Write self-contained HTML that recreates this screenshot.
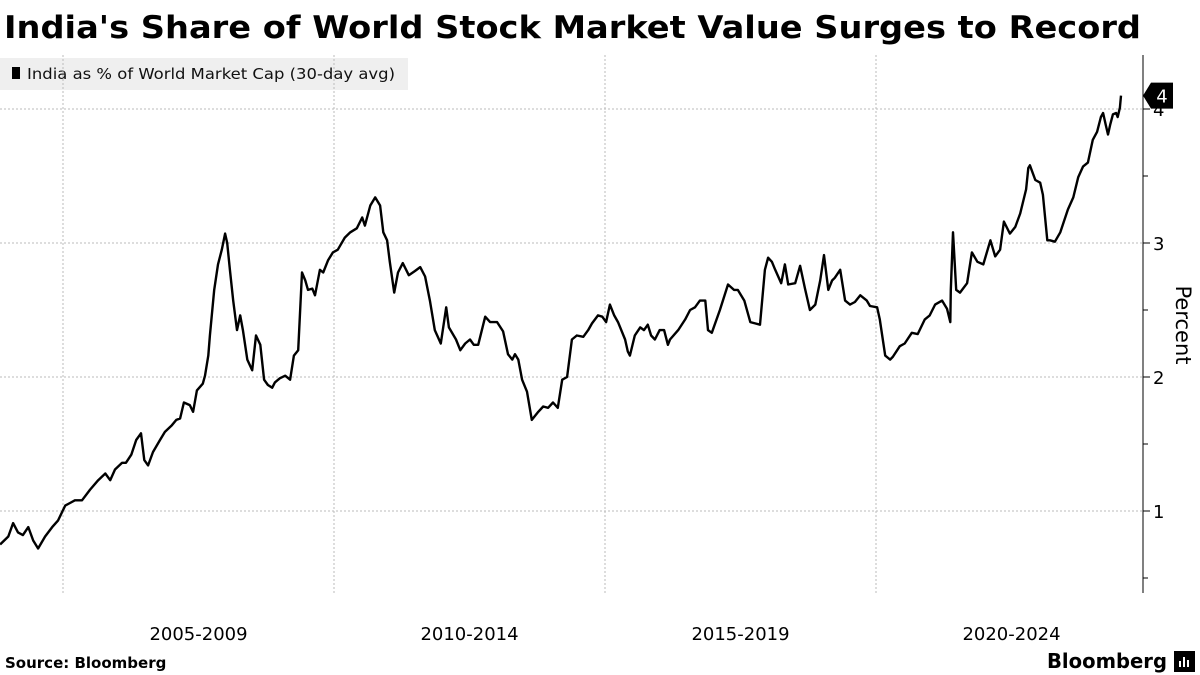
<!DOCTYPE html>
<html><head><meta charset="utf-8"><style>
html,body{margin:0;padding:0;background:#fff;}
svg{display:block;font-family:"DejaVu Sans","Liberation Sans",sans-serif;}
</style></head><body>
<svg id="chart" width="1200" height="675" viewBox="0 0 1200 675">
<text x="4" y="38" font-size="31" font-weight="bold" fill="#000" textLength="1137" lengthAdjust="spacingAndGlyphs">India's Share of World Stock Market Value Surges to Record</text>
<g>
<rect x="0" y="58" width="408" height="32" fill="#efefef"/>
<rect x="12" y="67" width="8" height="12" fill="#000"/>
<text x="27" y="79" font-size="15" fill="#111" textLength="368" lengthAdjust="spacingAndGlyphs">India as % of World Market Cap (30-day avg)</text>
</g>
<g id="grid"></g>
<g id="axes"></g>
<path id="line" fill="none" stroke="#000" stroke-width="2.4" stroke-linejoin="round"/>
<g id="badge"></g>
<text transform="translate(1176,325) rotate(90)" text-anchor="middle" font-size="21" fill="#000">Percent</text>
<text x="5" y="668" font-size="15" font-weight="bold" fill="#000">Source: Bloomberg</text>
<text x="1047" y="668" font-size="20" font-weight="bold" fill="#000" textLength="120" lengthAdjust="spacingAndGlyphs">Bloomberg</text>
<g><rect x="1174" y="651" width="21" height="21" fill="#000"/><rect x="1179" y="661" width="2" height="6" fill="#fff"/><rect x="1183" y="657" width="2" height="10" fill="#fff"/><rect x="1187" y="660" width="2" height="7" fill="#fff"/></g>
</svg>
<script>
const years = [2003.84,2003.99,2004.08,2004.17,2004.26,2004.36,2004.45,2004.54,2004.67,2004.80,2004.91,2005.04,2005.13,2005.22,2005.35,2005.50,2005.65,2005.78,2005.87,2005.96,2006.09,2006.16,2006.26,2006.35,2006.44,2006.50,2006.57,2006.66,2006.79,2006.88,2007.01,2007.09,2007.16,2007.23,2007.34,2007.40,2007.47,2007.58,2007.62,2007.68,2007.71,2007.79,2007.86,2007.93,2007.99,2008.03,2008.08,2008.14,2008.21,2008.27,2008.32,2008.40,2008.49,2008.56,2008.64,2008.71,2008.78,2008.86,2008.91,2009.00,2009.10,2009.19,2009.26,2009.34,2009.41,2009.47,2009.52,2009.60,2009.65,2009.74,2009.80,2009.89,2009.98,2010.07,2010.20,2010.30,2010.42,2010.52,2010.57,2010.67,2010.76,2010.85,2010.91,2010.98,2011.03,
2011.11,2011.18,2011.27,2011.38,2011.49,2011.59,2011.68,2011.77,2011.86,2011.97,2012.07,2012.12,2012.25,2012.33,2012.42,2012.51,2012.58,2012.66,2012.79,2012.88,2013.01,2013.12,2013.21,2013.29,2013.34,2013.40,2013.47,2013.56,2013.65,2013.77,2013.86,2013.95,2014.04,2014.13,2014.21,2014.30,2014.39,2014.48,2014.60,2014.69,2014.76,2014.87,2014.95,2015.02,2015.09,2015.17,2015.24,2015.37,2015.42,2015.46,2015.55,2015.65,2015.72,2015.79,2015.85,2015.92,2016.01,2016.09,2016.16,2016.20,2016.35,2016.48,2016.57,2016.66,2016.75,2016.85,2016.90,2016.97,2017.12,2017.27,2017.38,2017.45,2017.57,2017.68,2017.77,2017.86,
2017.95,2018.01,2018.08,2018.14,2018.25,2018.32,2018.38,2018.51,2018.60,2018.69,2018.78,2018.88,2018.97,2019.04,2019.12,2019.19,2019.24,2019.34,2019.43,2019.52,2019.61,2019.71,2019.83,2019.89,2020.02,2020.07,2020.17,2020.26,2020.31,2020.44,2020.53,2020.66,2020.77,2020.90,2020.99,2021.09,2021.22,2021.31,2021.37,2021.38,2021.42,2021.48,2021.55,2021.68,2021.77,2021.87,2021.98,2022.11,2022.20,2022.29,2022.36,2022.47,2022.57,2022.66,2022.77,2022.81,2022.84,2022.94,2023.03,2023.08,2023.16,2023.21,2023.30,2023.40,2023.54,2023.64,2023.73,2023.82,2023.91,2024.00,2024.08,2024.15,2024.19,2024.24,2024.28,2024.32,2024.37,2024.43,2024.46,2024.50,2024.52];
const values = [0.75,0.81,0.91,0.84,0.82,0.88,0.78,0.72,0.81,0.88,0.93,1.04,1.06,1.08,1.08,1.16,1.23,1.28,1.23,1.31,1.36,1.36,1.42,1.53,1.58,1.38,1.34,1.44,1.53,1.59,1.64,1.68,1.69,1.81,1.79,1.74,1.90,1.95,2.01,2.16,2.31,2.65,2.84,2.95,3.07,3.00,2.80,2.57,2.35,2.46,2.35,2.13,2.05,2.31,2.24,1.98,1.94,1.92,1.96,1.99,2.01,1.98,2.16,2.20,2.78,2.72,2.65,2.66,2.61,2.80,2.78,2.87,2.93,2.95,3.04,3.08,3.11,3.19,3.13,3.28,3.34,3.28,3.08,3.02,2.86,
2.63,2.78,2.85,2.76,2.79,2.82,2.75,2.57,2.35,2.25,2.52,2.37,2.28,2.20,2.25,2.28,2.24,2.24,2.45,2.41,2.41,2.34,2.17,2.13,2.17,2.13,1.98,1.89,1.68,1.74,1.78,1.77,1.81,1.77,1.98,2.00,2.28,2.31,2.30,2.35,2.40,2.46,2.45,2.41,2.54,2.46,2.41,2.28,2.19,2.16,2.31,2.37,2.35,2.39,2.31,2.28,2.35,2.35,2.24,2.28,2.35,2.43,2.50,2.52,2.57,2.57,2.35,2.33,2.50,2.69,2.65,2.65,2.57,2.41,2.40,2.39,
2.80,2.89,2.86,2.80,2.70,2.84,2.69,2.70,2.83,2.66,2.50,2.54,2.72,2.91,2.65,2.72,2.74,2.80,2.57,2.54,2.56,2.61,2.57,2.53,2.52,2.43,2.16,2.13,2.15,2.23,2.25,2.33,2.32,2.43,2.46,2.54,2.57,2.51,2.41,2.65,3.08,2.65,2.63,2.70,2.93,2.86,2.84,3.02,2.90,2.95,3.16,3.07,3.12,3.22,3.40,3.56,3.58,3.47,3.45,3.36,3.02,3.02,3.01,3.08,3.25,3.34,3.49,3.57,3.60,3.77,3.83,3.94,3.97,3.88,3.81,3.88,3.96,3.97,3.94,4.01,4.10];
const yTicks = [1,2,3,4];
const yMinor = [0.5,1.5,2.5,3.5];
const xGridYears = [2005,2010,2015,2020];
const xLabels = ["2005-2009","2010-2014","2015-2019","2020-2024"];
const lastLabel = "4";

const NS = "http://www.w3.org/2000/svg";
const X = yr => 63 + (yr - 2005) * 54.2;
const Y = v => 645 - v * 134;
const AXX = 1143, TOP = 55, BOT = 593;
function mk(tag, attrs, parent){const e=document.createElementNS(NS,tag);for(const k in attrs)e.setAttribute(k,attrs[k]);parent.appendChild(e);return e;}
const grid=document.getElementById('grid'), axes=document.getElementById('axes');
yTicks.forEach(t=>{
  const g=mk('line',{x1:0,x2:AXX,y1:Y(t),y2:Y(t),stroke:'#bbb','stroke-width':1,'stroke-dasharray':'2,2'},grid);
  
  
  const tk=mk('line',{x1:AXX,x2:AXX+7,y1:Y(t),y2:Y(t),stroke:'#000','stroke-width':1},axes);
  
  
  const tx=mk('text',{x:AXX+10,y:Y(t)+7,'font-size':18,fill:'#000'},axes);
  tx.textContent=t;
  
  
});
yMinor.forEach(t=>{
  const tk=mk('line',{x1:AXX,x2:AXX+5,y1:Y(t),y2:Y(t),stroke:'#000','stroke-width':1},axes);
  
  
});
xGridYears.forEach((yr,i)=>{
  const g=mk('line',{x1:X(yr),x2:X(yr),y1:TOP,y2:BOT,stroke:'#bbb','stroke-width':1,'stroke-dasharray':'2,2'},grid);
  
  
  const tx=mk('text',{x:X(yr+2.5),y:640,'font-size':18,fill:'#000','text-anchor':'middle'},axes);
  tx.textContent=xLabels[i];
  
  
});
const ax=mk('line',{x1:AXX,x2:AXX,y1:TOP,y2:BOT,stroke:'#000','stroke-width':1},axes);


let d='';
years.forEach((yr,i)=>{d+=(i?'L':'M')+X(yr).toFixed(1)+','+Y(values[i]).toFixed(1);});
document.getElementById('line').setAttribute('d',d);
const by=Y(values[values.length-1]);
const badge=document.getElementById('badge');
const bp=mk('path',{d:`M${AXX},${by} L${AXX+8},${by-13} H${AXX+30} V${by+13} H${AXX+8} Z`,fill:'#000'},badge);


const bt=mk('text',{x:AXX+19,y:by+7,'font-size':18,fill:'#fff','text-anchor':'middle'},badge);
bt.textContent=lastLabel;


</script>
</body></html>
